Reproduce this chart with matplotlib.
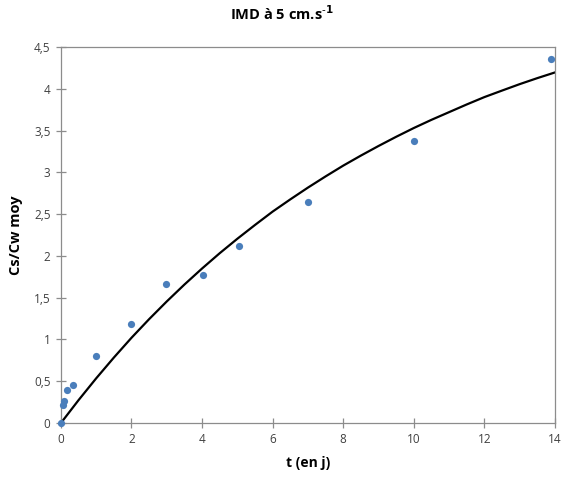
import numpy as np
import matplotlib.pyplot as plt
from matplotlib.ticker import FuncFormatter, MultipleLocator

# Mesures (points bleus)
t_mes = [0, 0.05, 0.08, 0.18, 0.33, 1.0, 1.99, 2.98, 4.03, 5.04, 7.0, 10.0, 13.9]
c_mes = [0, 0.215, 0.26, 0.40, 0.46, 0.805, 1.19, 1.66, 1.77, 2.12, 2.65, 3.38, 4.35]

# Courbe du modèle
t_mod = [0, 0.5, 1, 1.5, 2, 2.5, 3, 3.5, 4, 4.5, 5, 5.5, 6, 6.5, 7,
         7.5, 8, 8.5, 9, 9.5, 10, 10.5, 11, 11.5, 12, 12.5, 13, 13.5, 14]
c_mod = [0, 0.274, 0.535, 0.783, 1.02, 1.243, 1.455, 1.657, 1.849, 2.032, 2.205,
         2.37, 2.53, 2.676, 2.817, 2.951, 3.08, 3.2, 3.315, 3.425, 3.53,
         3.628, 3.72, 3.812, 3.9, 3.978, 4.055, 4.127, 4.195]

x_ticks = [0, 2, 4, 6, 8, 10, 12, 14]

plt.rcParams['font.family'] = ['Open Sans', 'DejaVu Sans']

fig = plt.figure(figsize=(5.64, 4.84), dpi=100)
ax = fig.add_axes([0.108, 0.126, 0.876, 0.777])

ax.plot(t_mod, c_mod, color='black', linewidth=1.6, zorder=2)
ax.plot(t_mes, c_mes, 'o', color='#4a7ebb', markersize=5.2, markeredgewidth=0,
        zorder=3, clip_on=False)

ax.set_xlim(0, 14)
ax.set_ylim(0, 4.5)
ax.set_xticks(x_ticks)
ax.yaxis.set_major_locator(MultipleLocator(0.5))

def virgule(v, pos):
    s = ('%g' % v)
    return s.replace('.', ',')

ax.xaxis.set_major_formatter(FuncFormatter(virgule))
ax.yaxis.set_major_formatter(FuncFormatter(virgule))

for sp in ax.spines.values():
    sp.set_color('#8c8c8c')
    sp.set_linewidth(0.9)

ax.tick_params(direction='inout', length=7, width=0.9, color='#8c8c8c',
               labelsize=8.5, labelcolor='#404040', pad=4)

ax.set_xlabel('t (en j)', fontsize=10, fontweight='bold', labelpad=7)
ax.set_ylabel('Cs/Cw moy', fontsize=10.5, fontweight='bold', labelpad=8)
fig.text(0.5, 0.972, 'IMD à 5 cm.s$^{\\mathbf{\\text{-}1}}$', ha='center', va='center',
         fontsize=10.5, fontweight='bold')

fig.savefig('out.png', dpi=100)
